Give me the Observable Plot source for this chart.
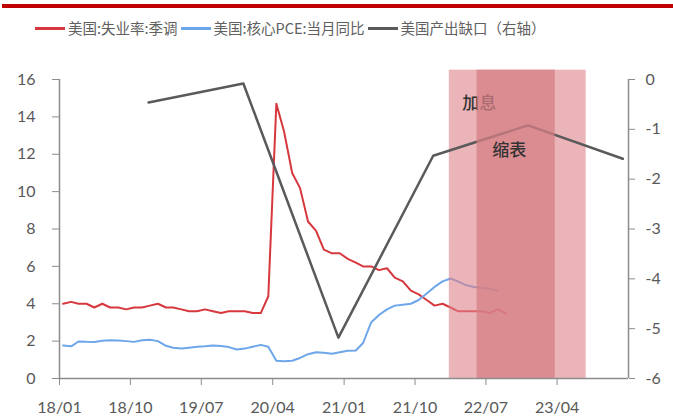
<!DOCTYPE html>
<html><head><meta charset="utf-8">
<script src="https://cdn.jsdelivr.net/npm/d3@7"></script>
<script src="https://cdn.jsdelivr.net/npm/@observablehq/plot@0.6"></script>
<style>
body{margin:0;background:#fff;font-family:"Noto Sans CJK SC",sans-serif;}
#wrap{position:relative;width:673px;height:419px;overflow:hidden;background:#fff;}
#bar{position:absolute;left:2px;top:4px;width:671px;height:4px;background:#c00000;}
#legend{position:absolute;top:18px;left:35px;display:flex;align-items:center;font-size:14.5px;color:#606060;white-space:nowrap;line-height:20px;}
.sw{display:inline-block;width:30px;height:3px;margin-right:3px;}
.item{display:flex;align-items:center;margin-right:3px;}
#chart{position:absolute;left:0;top:0;}
</style></head><body>
<div id="wrap"><div id="chart"></div><div id="bar"></div><div id="legend"></div></div>
<script>
const seriesNames = ["美国:失业率:季调", "美国:核心PCE:当月同比", "美国产出缺口（右轴）"];
const seriesColors = ["#d7383e", "#6ea6ea", "#5a5a5a"];

const monthlyStart = "2018-01";
const unemployment = [
  4.0,4.1,4.0,4.0,3.8,4.0,3.8,3.8,3.7,3.8,3.8,3.9,
  4.0,3.8,3.8,3.7,3.6,3.6,3.7,3.6,3.5,3.6,3.6,3.6,
  3.5,3.5,4.4,14.7,13.2,11.0,10.2,8.4,7.9,6.9,6.7,6.7,
  6.4,6.2,6.0,6.0,5.8,5.9,5.4,5.2,4.7,4.5,4.2,3.9,
  4.0,3.8,3.6,3.6,3.6,3.6,3.5,3.7,3.5
];
const corePCE = [
  1.76,1.72,1.98,1.96,1.95,2.02,2.05,2.03,2.0,1.96,2.05,2.07,
  2.0,1.75,1.65,1.6,1.65,1.7,1.72,1.76,1.74,1.68,1.55,1.6,
  1.7,1.8,1.7,0.95,0.92,0.95,1.1,1.3,1.4,1.38,1.33,1.4,
  1.48,1.5,1.9,3.0,3.4,3.7,3.9,3.95,4.0,4.2,4.55,4.9,
  5.2,5.35,5.2,5.0,4.9,4.85,4.8,4.7
];
const gapDates = ["2018-12-10","2019-12-10","2020-12-10","2021-12-10","2022-12-10","2023-12-10"];
const outputGap = [-0.46,-0.08,-5.18,-1.53,-0.92,-1.59];

const xTickLabels = ["18/01","18/10","19/07","20/04","21/01","21/10","22/07","23/04"];
const leftTicks = [0,2,4,6,8,10,12,14,16];
const rightTicks = [-6,-5,-4,-3,-2,-1,0];

const policyLabels = ["加息","缩表"];
const policyStarts = ["2022-02-10","2022-05-28"];
const policyEnds = ["2023-07-22","2023-03-25"];
const labelDates = ["2022-04-01","2022-07-25"];
const labelValues = [14.7, 12.2];

const parse = s => new Date((s.length === 7 ? s + "-01" : s) + "T00:00:00Z");
const monthly = (start, vals) => vals.map((v, i) => {
  const d = d3.utcMonth.offset(parse(start), i);
  return {date: new Date(d.getTime() + 14 * 864e5), value: v};
});
const toLeft = v => (v + 6) * 16 / 6;
const fromLeft = y => Math.round(y * 6 / 16 - 6);

const unemp = monthly(monthlyStart, unemployment);
const pce = monthly(monthlyStart, corePCE);
const gap = gapDates.map((d, i) => ({date: parse(d), value: outputGap[i]}));
const policies = policyLabels.map((l, i) => ({label: l, start: parse(policyStarts[i]), end: parse(policyEnds[i])}));
const notes = policyLabels.map((l, i) => ({label: l, date: parse(labelDates[i]), value: labelValues[i]}));

const xDomain = [parse("2018-01"), parse("2024-01")];
const xTicks = xTickLabels.map(l => parse("20" + l.slice(0, 2) + "-" + l.slice(3)));
const axisColor = "#8c8c8c";
const font = "Lato, 'Noto Sans CJK SC', sans-serif";

const chart = Plot.plot({
  width: 673, height: 419,
  marginLeft: 59, marginRight: 45, marginTop: 79, marginBottom: 41,
  x: {type: "utc", domain: xDomain},
  y: {domain: [0, 16]},
  style: {fontFamily: font, fontSize: "16px", color: "#595959", background: "transparent"},
  marks: [
    Plot.lineY(unemp, {x: "date", y: "value", stroke: seriesColors[0], strokeWidth: 2}),
    Plot.lineY(pce, {x: "date", y: "value", stroke: seriesColors[1], strokeWidth: 2}),
    Plot.rect([policies[0]], {x1: "start", x2: "end", y1: 0, y2: 16.5, fill: "rgb(222,130,138)", fillOpacity: 0.6}),
    Plot.line(gap, {x: "date", y: d => toLeft(d.value), stroke: seriesColors[2], strokeWidth: 2.5}),
    Plot.text([notes[0]], {x: "date", y: "value", text: "label", textAnchor: "start", fontSize: 17, fill: "#333", fontWeight: 500, fontFamily: "'Noto Sans CJK SC'"}),
    Plot.rect([policies[1]], {x1: "start", x2: "end", y1: 0, y2: 16.5, fill: "rgb(212,127,132)", fillOpacity: 0.75}),
    Plot.text([notes[1]], {x: "date", y: "value", text: "label", textAnchor: "start", fontSize: 17, fill: "#333", fontWeight: 500, fontFamily: "'Noto Sans CJK SC'"}),
    Plot.ruleY([0], {stroke: axisColor, strokeWidth: 1.5}),
    Plot.ruleX([xDomain[0], xDomain[1]], {y1: 0, y2: 16, stroke: axisColor, strokeWidth: 1.5}),
    Plot.axisX({ticks: xTicks, tickFormat: d3.utcFormat("%y/%m"), tickSize: 7, tickPadding: 16, stroke: axisColor, fill: "#595959", fontSize: 16}),
    Plot.axisY({anchor: "left", ticks: leftTicks, tickSize: 7, tickPadding: 17, stroke: axisColor, fill: "#595959", fontSize: 16, label: null}),
    Plot.axisY({anchor: "right", ticks: rightTicks.map(toLeft), tickFormat: d => String(fromLeft(d)), tickSize: 6, tickPadding: 11, stroke: axisColor, fill: "#595959", fontSize: 16, label: null})
  ]
});
document.getElementById("chart").appendChild(chart);

const legend = document.getElementById("legend");
seriesNames.forEach((name, i) => {
  const item = document.createElement("span");
  item.className = "item";
  const sw = document.createElement("span");
  sw.className = "sw";
  sw.style.background = seriesColors[i];
  item.appendChild(sw);
  item.appendChild(document.createTextNode(name));
  legend.appendChild(item);
});
</script>
</body></html>
